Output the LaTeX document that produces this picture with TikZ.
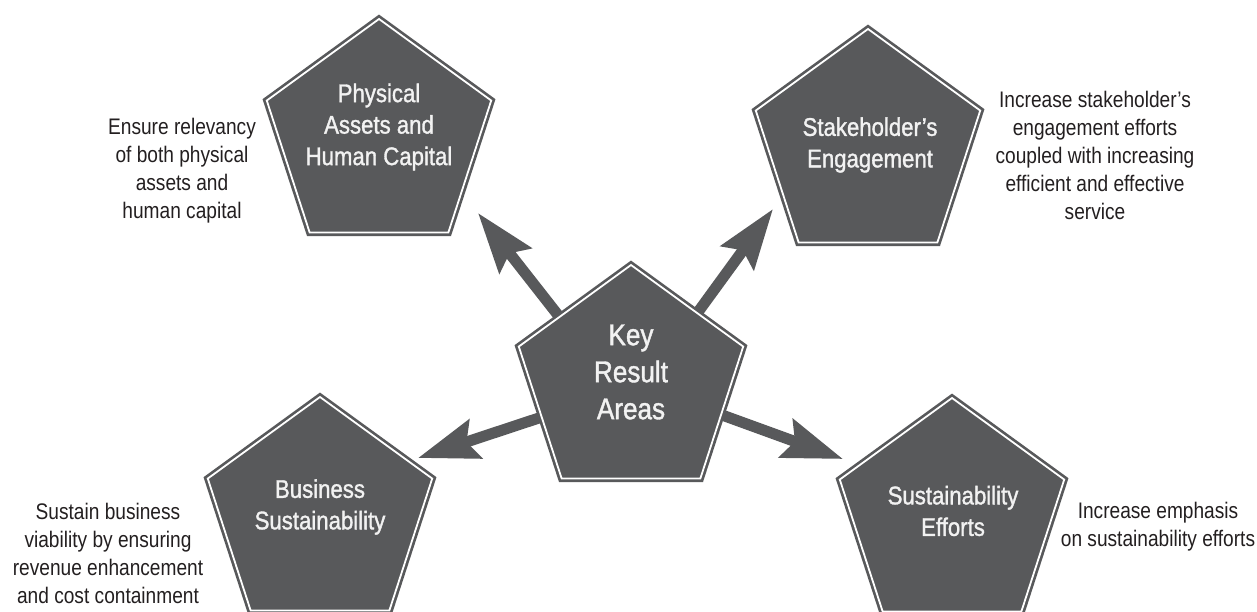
\documentclass[tikz,border=0pt]{standalone}
\usepackage{fontspec}
\setmainfont[FakeStretch=0.85]{Liberation Sans}
\newfontfamily\lblfont[FakeStretch=0.87,FakeBold=1.3]{Liberation Sans}
\usetikzlibrary{shapes.geometric,arrows.meta,backgrounds}
\definecolor{pentfill}{HTML}{58595B}
\definecolor{desctext}{HTML}{231F20}
\definecolor{lbltext}{HTML}{F2F2F2}
\begin{document}
\begin{tikzpicture}[x=1pt,y=-1pt,
  pent/.style={regular polygon, regular polygon sides=5, minimum size=236pt,
    inner sep=0pt, fill=pentfill, draw=pentfill, line width=2.7pt,
    double=white, double distance=1.8pt},
  lbl/.style={align=center, text=lbltext, inner sep=0pt,
    font=\lblfont\fontsize{25.5}{31.5}\selectfont},
  keylbl/.style={lbl, font=\lblfont\fontsize{30}{37}\selectfont},
  desc/.style={align=center, text=desctext, inner sep=0pt,
    font=\fontsize{22.5}{28}\selectfont},
  bigarrow/.style={draw=pentfill, line width=11pt,
    -{Stealth[length=60pt,width=40pt,inset=9pt]}}]
  \useasboundingbox (0,0) rectangle (1257,611);
  \clip (0,0) rectangle (1257,611);

  % pentagons
  \node[pent] (kra)  at (631,383) {};
  \node[pent] (phys) at (379,137) {};
  \node[pent] (stak) at (868,147) {};
  \node[pent] (bus)  at (320,515) {};
  \node[pent] (sus)  at (952,516) {};

  % pentagon labels
  \node[keylbl] (kral) at (631,372) {Key\\Result\\Areas};
  \node[lbl] (physl) at (379,127) {Physical\\Assets and\\Human Capital};
  \node[lbl] (stakl) at (870,145) {Stakeholder’s\\Engagement};
  \node[lbl] (busl)  at (320,507) {Business\\Sustainability};
  \node[lbl] (susl)  at (953,511) {Sustainability\\Efforts};

  % descriptions
  \node[desc] (physd) at (182,171) {Ensure relevancy\\of both physical\\assets and\\human capital};
  \node[desc] (stakd) at (1095,155) {Increase stakeholder’s\\engagement efforts\\coupled with increasing\\efficient and effective\\service};
  \node[desc] (busd)  at (108,553) {Sustain business\\viability by ensuring\\revenue enhancement\\and cost containment};
  \node[desc] (susd)  at (1158,527) {Increase emphasis\\on sustainability efforts};

  % arrow ends
  \coordinate (a1s) at (565,324); \coordinate (a1t) at (478,213);
  \coordinate (a2s) at (690,323); \coordinate (a2t) at (773,209);
  \coordinate (a3s) at (551,414); \coordinate (a3t) at (418,458);
  \coordinate (a4s) at (711,411); \coordinate (a4t) at (843,459);

  \begin{scope}[on background layer]
    \draw[bigarrow] (a1s) -- (a1t);
    \draw[bigarrow] (a2s) -- (a2t);
    \draw[bigarrow] (a3s) -- (a3t);
    \draw[bigarrow] (a4s) -- (a4t);
  \end{scope}
\end{tikzpicture}
\end{document}
